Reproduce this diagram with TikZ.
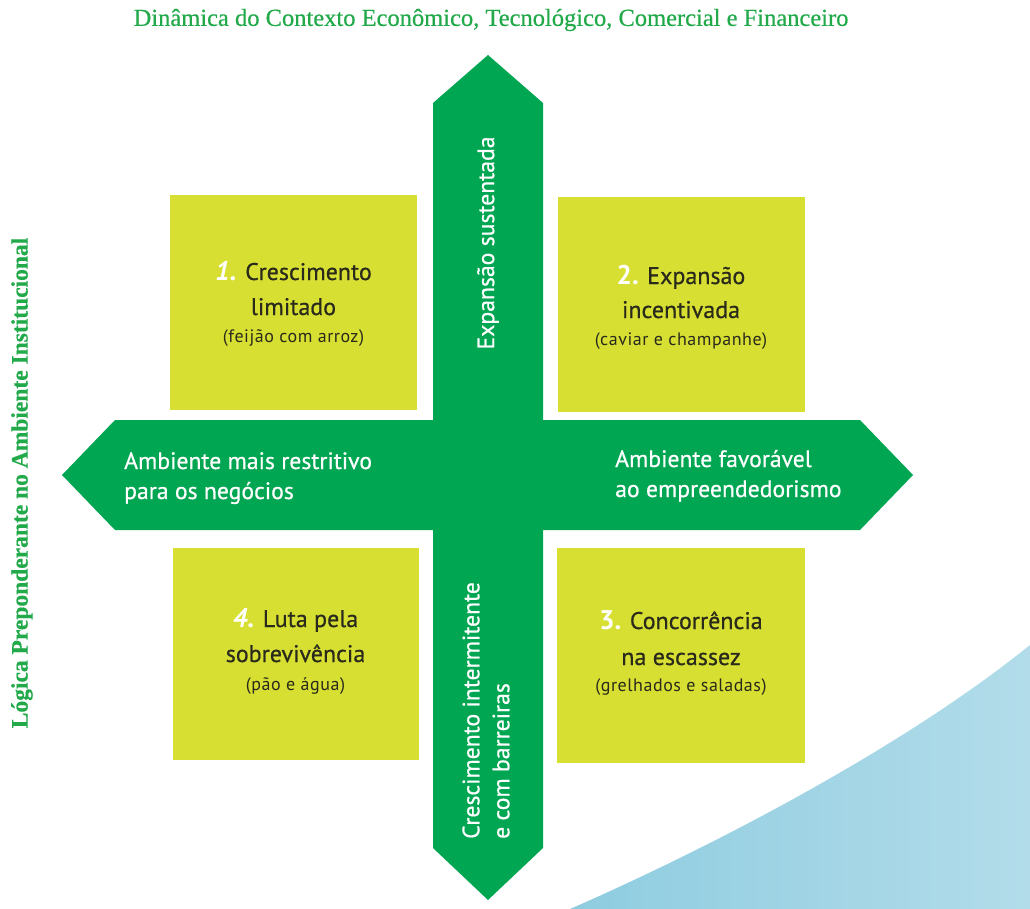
\documentclass[tikz,border=0pt]{standalone}
\usepackage{fontspec}
\setmainfont{Liberation Serif}
\setsansfont{PT Sans}
\newfontfamily\labelfont{PT Sans}[FakeBold=0.6]
\newfontfamily\subfont{PT Sans}[LetterSpace=3]
\newfontfamily\titlefont{Liberation Serif}[FakeBold=0.5]
\usetikzlibrary{calc}
\definecolor{arrowgreen}{HTML}{00A651}
\definecolor{quadyellow}{HTML}{D7DF32}
\definecolor{titlegreen}{HTML}{22AA4A}
\definecolor{quadtext}{HTML}{2A2A1C}
\definecolor{swooshdark}{HTML}{8ECCE0}
\definecolor{swooshlight}{HTML}{B2DCEA}
\begin{document}
\begin{tikzpicture}[x=1pt,y=-1pt,
  quad/.style={fill=quadyellow,draw=none,inner sep=0pt},
  mainline/.style={font=\labelfont\fontsize{24}{28}\selectfont,text=quadtext,anchor=base,inner sep=0pt},
  subline/.style={font=\subfont\fontsize{18}{21}\selectfont,text=quadtext,anchor=base,inner sep=0pt},
  arrowtext/.style={font=\labelfont\fontsize{23.7}{30}\selectfont,text=white,inner sep=0pt},
  axistitle/.style={text=titlegreen,inner sep=0pt}]
\useasboundingbox (0,0) rectangle (1030,909);
\fill[white] (0,0) rectangle (1030,909);

% blue swoosh in the lower right corner
\shade[left color=swooshdark,right color=swooshlight]
  (570,909) .. controls (705,850) and (900,750) .. (1030,645) -- (1030,909) -- cycle;

% quadrant boxes
\node[quad, minimum width=247pt, minimum height=215pt] (q1) at (293.5,302.5) {};
\node[quad, minimum width=247pt, minimum height=214pt] (q2) at (681,304.5) {};
\node[quad, minimum width=246pt, minimum height=212pt] (q4) at (295.5,654) {};
\node[quad, minimum width=248pt, minimum height=215pt] (q3) at (681,655.5) {};

% double-headed cross of arrows
\fill[arrowgreen] (433,103) -- (488,55) -- (543,103) -- (543,848) -- (488,900) -- (433,848) -- cycle;
\fill[arrowgreen] (62,475) -- (115,420) -- (860,420) -- (913,475) -- (860,530) -- (115,530) -- cycle;

% quadrant texts
\newcommand{\quadnum}[1]{{\sffamily\bfseries\itshape\fontsize{27}{27}\selectfont\color{white}#1}}
\newcommand{\quadnumup}[1]{{\sffamily\bfseries\fontsize{27}{27}\selectfont\color{white}#1}}
\node[mainline] (q1a) at ($(q1)+(0,-22.5)$) {\quadnum{1.} Crescimento};
\node[mainline] (q1b) at ($(q1)+(0,12.5)$) {limitado};
\node[subline]  (q1c) at ($(q1)+(0,39.5)$) {(feijão com arroz)};

\node[mainline] (q2a) at ($(q2)+(0,-20.5)$) {\quadnumup{2.} Expansão};
\node[mainline] (q2b) at ($(q2)+(0,13.5)$) {incentivada};
\node[subline]  (q2c) at ($(q2)+(0,40.5)$) {(caviar e champanhe)};

\node[mainline] (q3a) at ($(q3)+(0,-26.5)$) {\quadnumup{3.} Concorrência};
\node[mainline] (q3b) at ($(q3)+(0,9.5)$) {na escassez};
\node[subline]  (q3c) at ($(q3)+(0,35.5)$) {(grelhados e saladas)};

\node[mainline] (q4a) at ($(q4)+(0,-27)$) {\quadnum{4.} Luta pela};
\node[mainline] (q4b) at ($(q4)+(0,8)$) {sobrevivência};
\node[subline]  (q4c) at ($(q4)+(0,36)$) {(pão e água)};

% arrow labels
\node[arrowtext, align=left, anchor=base west] (left) at (124,499) {Ambiente mais restritivo\\para os negócios};
\node[arrowtext, align=left, anchor=base west] (right) at (615,497) {Ambiente favorável\\ao empreendedorismo};
\node[arrowtext, rotate=90] (up) at (488,243) {Expansão sustentada};
\node[arrowtext, rotate=90, align=left, anchor=west] (down) at (486,839) {Crescimento intermitente\\e com barreiras};

% axis titles
\node[axistitle, font=\titlefont\fontsize{24.5}{28}\selectfont] (xtitle) at (491,20) {Dinâmica do Contexto Econômico, Tecnológico, Comercial e Financeiro};
\node[axistitle, font=\titlefont\bfseries\fontsize{23.5}{28}\selectfont, rotate=90] (ytitle) at (22,483) {Lógica Preponderante no Ambiente Institucional};
\end{tikzpicture}
\end{document}
